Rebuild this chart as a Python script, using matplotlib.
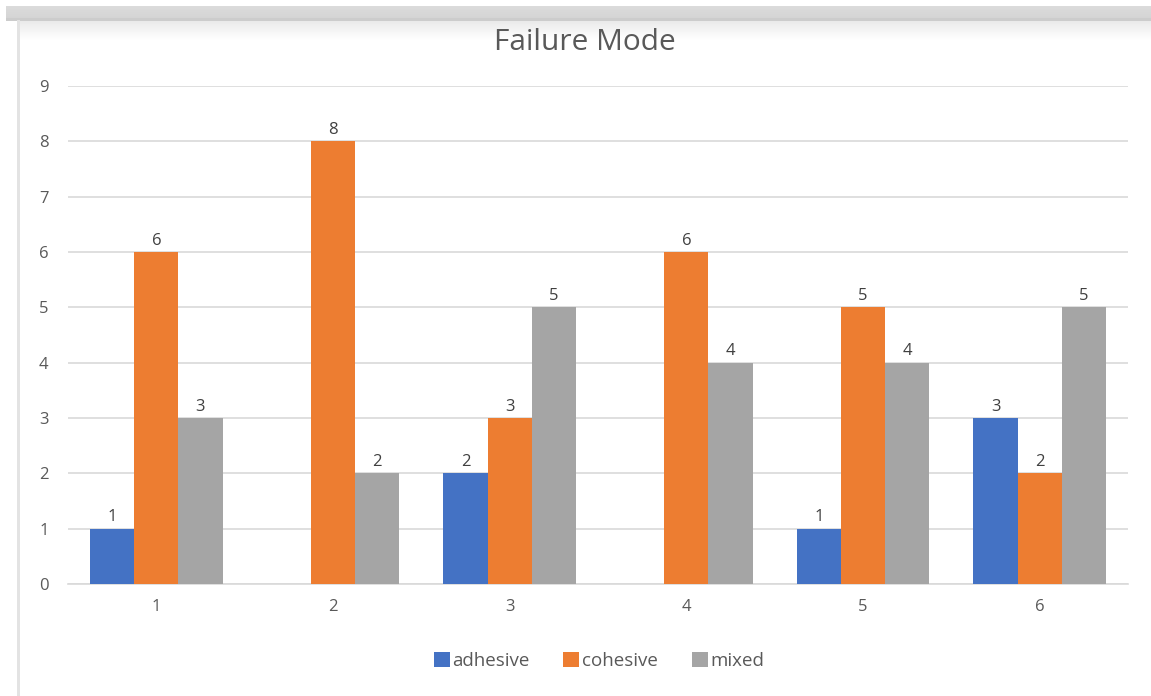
import matplotlib
matplotlib.use("Agg")
import matplotlib.pyplot as plt
import numpy as np
from matplotlib.patches import Rectangle

categories = ["1", "2", "3", "4", "5", "6"]
adhesive = [1, 0, 2, 0, 1, 3]
cohesive = [6, 8, 3, 6, 5, 2]
mixed = [3, 2, 5, 4, 4, 5]
series_names = ["adhesive", "cohesive", "mixed"]
colors = ["#4472C4", "#ED7D31", "#A5A5A5"]
yticks = [0, 1, 2, 3, 4, 5, 6, 7, 8, 9]

plt.rcParams['font.family'] = ['Open Sans', 'DejaVu Sans']

W, H = 1151, 696
fig = plt.figure(figsize=(W/100, H/100), dpi=100)
fig.patch.set_facecolor("white")

# decorative frame (top shadow band and left edge)
bg = fig.add_axes([0, 0, 1, 1], zorder=-10)
bg.set_xlim(0, W); bg.set_ylim(H, 0); bg.axis("off")
band = np.ones((14, 1, 3))
top = np.array([0.86, 0.86, 0.86])
bot = np.array([0.83, 0.83, 0.83])
for i in range(14):
    t = i / 13
    band[i, 0, :] = top * (1 - t) + bot * t
bg.imshow(np.tile(band, (1, 10, 1)), extent=[6, W, 20, 6], aspect="auto", interpolation="bilinear")
bg.add_patch(Rectangle((6, 18), W, 3, color="#cccccc", lw=0))
lower = np.ones((20, 1, 3))
for i in range(20):
    t = i / 19
    lower[i, 0, :] = np.array([0.92, 0.92, 0.92]) * (1 - t) + np.array([1, 1, 1]) * t
bg.imshow(np.tile(lower, (1, 10, 1)), extent=[19, W, 40, 21], aspect="auto", interpolation="bilinear")
bg.add_patch(Rectangle((17.5, 20), 2.5, H, color="#e3e3e3", lw=0))

ax = fig.add_axes([68/W, 1 - 584/H, (1128-68)/W, (584-86)/H])
x = np.arange(len(categories))
w = 0.25
data = [adhesive, cohesive, mixed]
for i, (vals, name, c) in enumerate(zip(data, series_names, colors)):
    pos = x + (i - 1) * w
    ax.bar(pos, vals, width=w, color=c, label=name, zorder=3)
    for xp, v in zip(pos, vals):
        if v > 0:
            ax.text(xp, v + 0.06, str(v), ha="center", va="bottom", fontsize=12, color="#404040")

ax.set_xlim(-0.5, len(categories) - 0.5)
ax.set_ylim(0, 9)
ax.set_yticks(yticks)
ax.set_xticks(x)
ax.set_xticklabels(categories)
ax.yaxis.grid(True, color="#D9D9D9", lw=1.2, zorder=0)
ax.set_axisbelow(True)
for s in ["top", "right", "left"]:
    ax.spines[s].set_visible(False)
ax.spines["bottom"].set_color("#D9D9D9")
ax.spines["bottom"].set_linewidth(1.2)
ax.tick_params(axis="both", length=0, labelsize=12, labelcolor="#595959")
ax.tick_params(axis="x", pad=11)
ax.tick_params(axis="y", pad=14)
ax.set_facecolor("none")

fig.text(585/W, 1 - 43/H, "Failure Mode", ha="center", va="center", fontsize=21.5, color="#595959")

handles, labels = ax.get_legend_handles_labels()
fig.legend(handles, labels, loc="center", bbox_to_anchor=(599/W, 1 - 661/H), ncol=3, frameon=False,
           fontsize=13.5, labelcolor="#595959", handlelength=0.85, handleheight=0.85, handletextpad=0.15,
           columnspacing=1.8)

fig.savefig("out.png", dpi=100)
